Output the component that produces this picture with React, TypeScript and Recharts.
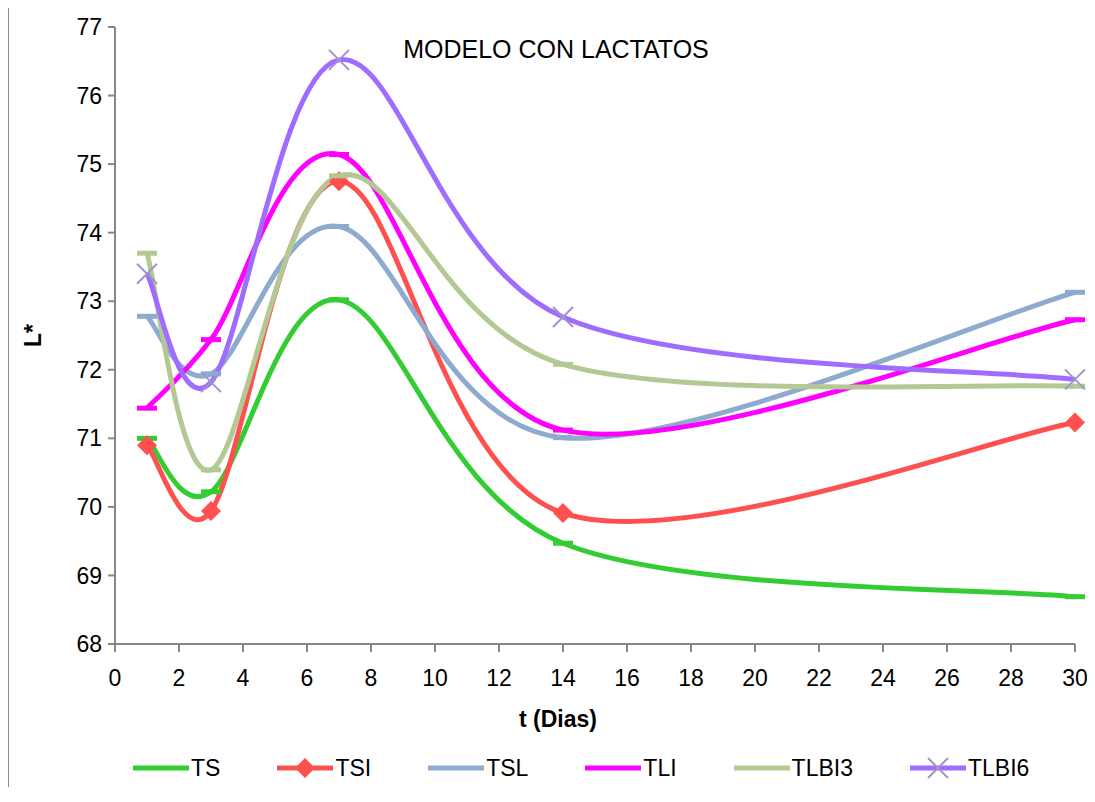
import React from "react";
import { LineChart, Line, XAxis, YAxis, Legend } from "recharts";

// L* values
const days = [1, 3, 7, 14, 30];
const ts = [71.0, 70.22, 73.02, 69.47, 68.69];
const tsi = [70.9, 69.94, 74.75, 69.91, 71.23];
const tsl = [72.78, 71.94, 74.09, 71.01, 73.13];
const tli = [71.44, 72.44, 75.14, 71.12, 72.73];
const tlbi3 = [73.7, 70.54, 74.83, 72.08, 71.76];
const tlbi6 = [73.4, 71.82, 76.52, 72.77, 71.86];

const xTicks = [0, 2, 4, 6, 8, 10, 12, 14, 16, 18, 20, 22, 24, 26, 28, 30];
const yTicks = [68, 69, 70, 71, 72, 73, 74, 75, 76, 77];

const data = days.map((d, i) => ({
  x: d,
  TS: ts[i],
  TSI: tsi[i],
  TSL: tsl[i],
  TLI: tli[i],
  TLBI3: tlbi3[i],
  TLBI6: tlbi6[i],
}));

const FONT = "'Liberation Sans', Arial, sans-serif";
const AXIS = "#868686";

// excel style smoothed line (catmull-rom bezier, handles capped to half the segment)
const excelCurve = (context: any) => {
  let pts: number[][] = [];
  return {
    areaStart() {},
    areaEnd() {},
    lineStart() {
      pts = [];
    },
    point(x: number, y: number) {
      pts.push([+x, +y]);
    },
    lineEnd() {
      const n = pts.length;
      if (!n) return;
      context.moveTo(pts[0][0], pts[0][1]);
      for (let i = 0; i < n - 1; i++) {
        const p0 = pts[i - 1] || pts[i];
        const p1 = pts[i];
        const p2 = pts[i + 1];
        const p3 = pts[i + 2] || pts[i + 1];
        const half = Math.hypot(p2[0] - p1[0], p2[1] - p1[1]) / 2;
        let ax = (p2[0] - p0[0]) / 6;
        let ay = (p2[1] - p0[1]) / 6;
        let bx = (p3[0] - p1[0]) / 6;
        let by = (p3[1] - p1[1]) / 6;
        const la = Math.hypot(ax, ay);
        const lb = Math.hypot(bx, by);
        if (la > half) {
          ax *= half / la;
          ay *= half / la;
        }
        if (lb > half) {
          bx *= half / lb;
          by *= half / lb;
        }
        context.bezierCurveTo(p1[0] + ax, p1[1] + ay, p2[0] - bx, p2[1] - by, p2[0], p2[1]);
      }
    },
  };
};

const dashDot = (color: string) => (props: any) => {
  const { cx, cy, index } = props;
  return <rect key={"d" + index} x={cx - 10} y={cy - 2.5} width={20} height={5} fill={color} />;
};

const diamondDot = (props: any) => {
  const { cx, cy, index } = props;
  return (
    <path
      key={"m" + index}
      d={`M${cx},${cy - 10}L${cx + 10},${cy}L${cx},${cy + 10}L${cx - 10},${cy}Z`}
      fill="#ff5050"
    />
  );
};

const crossDot = (props: any) => {
  const { cx, cy, index } = props;
  return (
    <path
      key={"c" + index}
      d={`M${cx - 10},${cy - 10}L${cx + 10},${cy + 10}M${cx - 10},${cy + 10}L${cx + 10},${cy - 10}`}
      stroke="#a393c8"
      strokeWidth={2}
      fill="none"
    />
  );
};

const series = [
  { key: "TS", color: "#33cc33", marker: "none" },
  { key: "TSI", color: "#ff5050", marker: "diamond" },
  { key: "TSL", color: "#8eaacf", marker: "none" },
  { key: "TLI", color: "#ff00ff", marker: "none" },
  { key: "TLBI3", color: "#b3c993", marker: "none" },
  { key: "TLBI6", color: "#9e6cff", marker: "cross" },
];

const LegendBox = () => (
  <div
    style={{
      height: 30,
      display: "flex",
      alignItems: "center",
      paddingLeft: 125,
      fontFamily: FONT,
      fontSize: 23,
      color: "#000",
    }}
  >
    {series.map((s) => (
      <div key={s.key} style={{ display: "flex", alignItems: "center", marginRight: 57 }}>
        <svg width={56} height={30}>
          <line x1={0} y1={15} x2={56} y2={15} stroke={s.color} strokeWidth={5} strokeLinecap="round" />
          {s.marker === "diamond" && <path d="M28,5L38,15L28,25L18,15Z" fill={s.color} />}
          {s.marker === "cross" && (
            <path d="M18,5L38,25M18,25L38,5" stroke="#a393c8" strokeWidth={2} />
          )}
        </svg>
        <span style={{ marginLeft: 2 }}>{s.key}</span>
      </div>
    ))}
  </div>
);

export default function App() {
  return (
    <div style={{ position: "relative", width: 1079, height: 780 }}>
      <div
        style={{
          position: "absolute",
          left: -1,
          top: -3,
          width: 1080,
          height: 780,
          borderLeft: "2px solid #8c8c8c",
          borderTop: "2px solid #8c8c8c",
          pointerEvents: "none",
        }}
      />
      <LineChart
        width={1079}
        height={780}
        data={data}
        margin={{ top: 19, right: 12, left: 0, bottom: 5 }}
      >
        <XAxis
          dataKey="x"
          type="number"
          domain={[0, 30]}
          ticks={xTicks}
          height={109}
          axisLine={{ stroke: AXIS, strokeWidth: 2 }}
          tickLine={{ stroke: AXIS, strokeWidth: 2 }}
          tickSize={8}
          tickMargin={18}
          tick={{ fill: "#000", fontSize: 23, fontFamily: FONT }}
          label={{
            content: (p: any) => {
              const vb = p.viewBox;
              return (
                <text
                  x={vb.x + vb.width / 2 - 37}
                  y={vb.y + 83}
                  textAnchor="middle"
                  fontFamily={FONT}
                  fontSize={23}
                  fontWeight="bold"
                  fill="#000"
                >
                  t (Dias)
                </text>
              );
            },
          }}
        />
        <YAxis
          type="number"
          domain={[68, 77]}
          ticks={yTicks}
          width={107}
          axisLine={{ stroke: AXIS, strokeWidth: 2 }}
          tickLine={{ stroke: AXIS, strokeWidth: 2 }}
          tickSize={7}
          tickMargin={6}
          tick={{ fill: "#000", fontSize: 23, fontFamily: FONT }}
          label={{
            content: (p: any) => {
              const vb = p.viewBox;
              const cy = vb.y + vb.height / 2;
              return (
                <text
                  x={25}
                  y={cy}
                  transform={`rotate(-90 25 ${cy})`}
                  textAnchor="middle"
                  dominantBaseline="central"
                  fontFamily={FONT}
                  fontSize={23}
                  fontWeight="bold"
                  fill="#000"
                >
                  L*
                </text>
              );
            },
          }}
        />
        <Legend verticalAlign="bottom" height={30} content={() => <LegendBox />} />
        {series.map((s) => (
          <Line
            key={s.key}
            dataKey={s.key}
            type={excelCurve as any}
            stroke={s.color}
            strokeWidth={5}
            dot={
              s.marker === "diamond"
                ? diamondDot
                : s.marker === "cross"
                ? crossDot
                : dashDot(s.color)
            }
            activeDot={false}
            isAnimationActive={false}
          />
        ))}
      </LineChart>
      <div
        style={{
          position: "absolute",
          left: 298,
          top: 29,
          width: 500,
          textAlign: "center",
          fontFamily: FONT,
          fontSize: 25,
          lineHeight: "25px",
          color: "#000",
        }}
      >
        MODELO CON LACTATOS
      </div>
    </div>
  );
}
